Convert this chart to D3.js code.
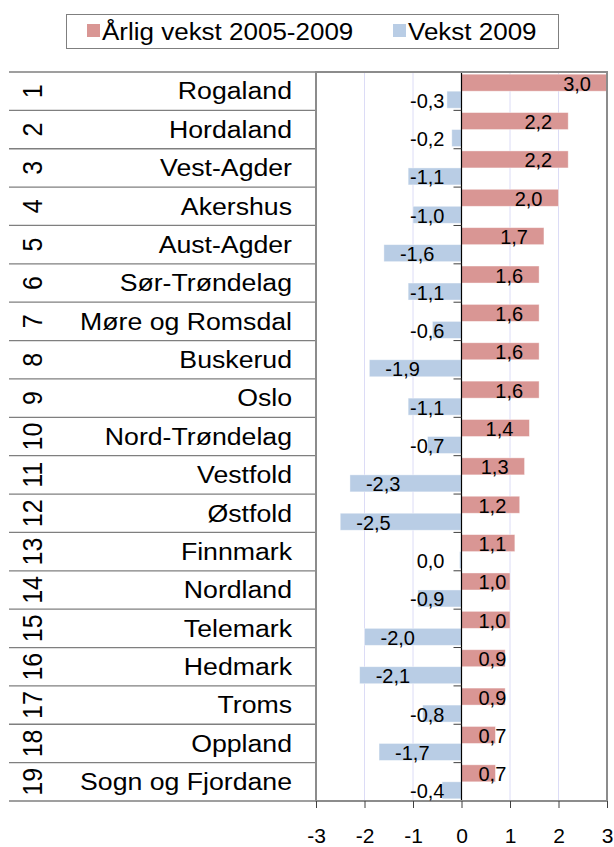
<!DOCTYPE html>
<html>
<head>
<meta charset="utf-8">
<script src="https://cdn.jsdelivr.net/npm/d3@7"></script>
<style>
  body { margin: 0; background: #fff; }
  text { font-family: "Liberation Sans", Arial, sans-serif; fill: #000; }
</style>
</head>
<body>
<div id="plot"></div>
<script>
// fylker, rangert etter årlig vekst
const counties = ["Rogaland", "Hordaland", "Vest-Agder", "Akershus", "Aust-Agder", "Sør-Trøndelag",
    "Møre og Romsdal", "Buskerud", "Oslo", "Nord-Trøndelag", "Vestfold", "Østfold", "Finnmark",
    "Nordland", "Telemark", "Hedmark", "Troms", "Oppland", "Sogn og Fjordane"];
const ranks = d3.range(1, counties.length + 1);
const annualGrowth = [3.0, 2.2, 2.2, 2.0, 1.7, 1.6, 1.6, 1.6, 1.6, 1.4, 1.3, 1.2, 1.1, 1.0, 1.0, 0.9, 0.9, 0.7, 0.7];
const growth2009 = [-0.3, -0.2, -1.1, -1.0, -1.6, -1.1, -0.6, -1.9, -1.1, -0.7, -2.3, -2.5, -0.04, -0.9, -2.0, -2.1, -0.8, -1.7, -0.4];
const seriesNames = ["Årlig vekst 2005-2009", "Vekst 2009"];
const xTicks = [-3, -2, -1, 0, 1, 2, 3];

const colors = ["#d99694", "#b9cde5"];
const width = 614, height = 847;
const plot = { left: 316, right: 607, top: 72, bottom: 801 };

const fmt = v => (Math.abs(v) < 0.05 ? 0 : v).toFixed(1).replace(".", ",");

let svg = d3.select("#plot").append("svg")
    .attr("width", width)
    .attr("height", height);

svg.append("rect").attr("width", width).attr("height", height).attr("fill", "#fff");

let x = d3.scaleLinear().domain([-3, 3]).range([plot.left, plot.right]);

let y = d3.scaleBand()
    .domain(counties)
    .range([plot.top, plot.bottom])
    .paddingInner(0.114)
    .paddingOuter(0.057);

let ySub = d3.scaleBand().domain([0, 1]).range([0, y.bandwidth()]);

let rowEdge = d3.scaleLinear().domain([0, counties.length]).range([plot.top, plot.bottom]);

// legend
let legend = svg.append("g");
legend.append("rect")
    .attr("x", 66.5).attr("y", 14.5).attr("width", 492).attr("height", 34)
    .attr("fill", "#fff").attr("stroke", "#7f7f7f").attr("stroke-width", 1);
let legendX = [87, 393];
seriesNames.forEach((s, i) => {
    legend.append("rect")
        .attr("x", legendX[i]).attr("y", 24).attr("width", 13).attr("height", 13)
        .attr("fill", colors[i]);
    legend.append("text")
        .attr("transform", `translate(${legendX[i] + 15},40) scale(1.13,1)`)
        .attr("font-size", 23)
        .text(s);
});

// tabell til venstre
let table = svg.append("g");
d3.range(counties.length + 1).forEach(i => {
    table.append("line")
        .attr("x1", 9).attr("x2", plot.left)
        .attr("y1", rowEdge(i)).attr("y2", rowEdge(i))
        .attr("stroke", "#7f7f7f").attr("stroke-width", 1.3);
});

table.selectAll("text.rank")
    .data(ranks)
    .join("text")
    .attr("class", "rank")
    .attr("transform", (d, i) => `translate(33,${(rowEdge(i) + rowEdge(i + 1)) / 2}) rotate(-90) scale(1,1.12)`)
    .attr("text-anchor", "middle")
    .attr("dominant-baseline", "central")
    .attr("font-size", 25)
    .text(d => d);

table.selectAll("text.name")
    .data(counties)
    .join("text")
    .attr("class", "name")
    .attr("transform", (d, i) => `translate(292,${(rowEdge(i) + rowEdge(i + 1)) / 2}) scale(1.16,1)`)
    .attr("text-anchor", "end")
    .attr("dominant-baseline", "central")
    .attr("font-size", 23)
    .text(d => d);

// rutenett
svg.append("g").selectAll("line")
    .data(xTicks.filter(t => t !== 0 && Math.abs(t) !== 3))
    .join("line")
    .attr("x1", d => x(d)).attr("x2", d => x(d))
    .attr("y1", plot.top).attr("y2", plot.bottom)
    .attr("stroke", "#dcdcf6").attr("stroke-width", 1);

// søyler
let series = [annualGrowth, growth2009];
series.forEach((vals, s) => {
    svg.append("g").selectAll("rect")
        .data(vals)
        .join("rect")
        .attr("x", d => x(Math.min(0, d)))
        .attr("width", d => Math.abs(x(d) - x(0)))
        .attr("y", (d, i) => y(counties[i]) + ySub(s))
        .attr("height", ySub.bandwidth())
        .attr("fill", colors[s])
        .attr("stroke", "#fff").attr("stroke-opacity", 0.5).attr("stroke-width", 0.8);
});

// kategori-akse ved null
svg.append("line")
    .attr("x1", x(0)).attr("x2", x(0))
    .attr("y1", plot.top).attr("y2", plot.bottom)
    .attr("stroke", "#000").attr("stroke-width", 1.2);
svg.append("g").selectAll("line")
    .data(d3.range(1, counties.length))
    .join("line")
    .attr("x1", x(0) - 8).attr("x2", x(0))
    .attr("y1", d => rowEdge(d)).attr("y2", d => rowEdge(d))
    .attr("stroke", "#404040").attr("stroke-width", 1);

// ramme
svg.append("rect")
    .attr("x", plot.left).attr("y", plot.top)
    .attr("width", plot.right - plot.left).attr("height", plot.bottom - plot.top)
    .attr("fill", "none").attr("stroke", "#8c8c8c").attr("stroke-width", 2);

// x-akse
let xAxis = svg.append("g")
    .attr("transform", `translate(0,${plot.bottom})`)
    .call(d3.axisBottom(x).tickValues(xTicks).tickSize(7).tickPadding(20).tickFormat(d => String(d)));
xAxis.select(".domain").remove();
xAxis.selectAll("line").attr("stroke", "#404040");
xAxis.selectAll("text")
    .attr("font-size", 21)
    .attr("font-family", "Liberation Sans, Arial, sans-serif")
    .attr("fill", "#000");

// dataetiketter
series.forEach((vals, s) => {
    let g = svg.append("g");
    vals.forEach((v, i) => {
        let t = g.append("text")
            .attr("y", y(counties[i]) + ySub(s) + ySub.bandwidth() / 2 + 1)
            .attr("dominant-baseline", "central")
            .attr("font-size", 20)
            .text(fmt(v));
        let w = t.node().getComputedTextLength();
        if (v > 0) {
            let right = Math.max(x(v) - 16, x(0) + 17 + w);
            t.attr("x", right).attr("text-anchor", "end");
        } else {
            let left = Math.min(x(v) + 16, x(0) - 17 - w);
            t.attr("x", left).attr("text-anchor", "start");
        }
    });
});
</script>
</body>
</html>
